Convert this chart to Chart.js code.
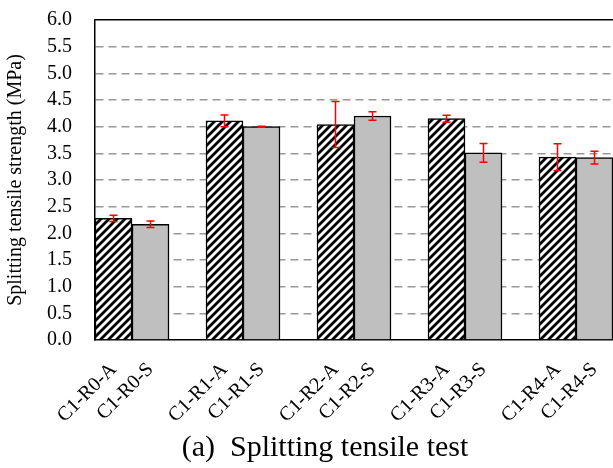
<!DOCTYPE html>
<html>
<head>
<meta charset="utf-8">
<script src="https://cdn.jsdelivr.net/npm/chart.js@4.4.1/dist/chart.umd.min.js"></script>
<style>
    html, body { margin: 0; padding: 0; background: #fff; overflow: hidden; }
    #wrap { width: 650px; height: 468px; }
</style>
</head>
<body>
<div id="wrap"><canvas id="tensile_graph" width="650" height="468"></canvas></div>
<script>
// specimens per group
const groups    = ["C1-R0", "C1-R1", "C1-R2", "C1-R3", "C1-R4"];
const a_values  = [2.28, 4.11, 4.04, 4.15, 3.43];
const a_errors  = [0.06, 0.11, 0.43, 0.065, 0.25];
const s_values  = [2.17, 4.00, 4.20, 3.51, 3.42];
const s_errors  = [0.06, 0.01, 0.08, 0.175, 0.12];
const y_ticks   = [0, 0.5, 1, 1.5, 2, 2.5, 3, 3.5, 4, 4.5, 5, 5.5, 6];

function make_hatch(){
    const c = document.createElement("canvas");
    c.width = 8; c.height = 8;
    const g = c.getContext("2d");
    g.fillStyle = "#fff";
    g.fillRect(0, 0, 8, 8);
    g.strokeStyle = "#000";
    g.lineWidth = 2.8;
    g.beginPath();
    g.moveTo(-2, 10); g.lineTo(10, -2);
    g.moveTo(-2, 2);  g.lineTo(2, -2);
    g.moveTo(6, 10);  g.lineTo(10, 6);
    g.stroke();
    return g.createPattern(c, "repeat");
}

const hatch = make_hatch();
const gray  = "#bfbfbf";

// A, S, blank gap for each group
let labels = [];
let values = [];
let errors = [];
let fills  = [];
for (let i = 0; i < groups.length; i++){
    labels.push(groups[i] + "-A", groups[i] + "-S", "");
    values.push(a_values[i], s_values[i], null);
    errors.push(a_errors[i], s_errors[i], null);
    fills.push(hatch, gray, gray);
}

const error_bars = {
    id: "error_bars",
    afterDatasetsDraw(chart){
        const ctx  = chart.ctx;
        const y    = chart.scales.y;
        const meta = chart.getDatasetMeta(0);
        ctx.save();
        ctx.strokeStyle = "#ff0000";
        ctx.lineWidth = 1.5;
        meta.data.forEach((bar, i) => {
            if (values[i] === null) return;
            const top = y.getPixelForValue(values[i] + errors[i]);
            const bot = y.getPixelForValue(values[i] - errors[i]);
            const x = bar.x;
            ctx.beginPath();
            ctx.moveTo(x, top); ctx.lineTo(x, bot);
            ctx.moveTo(x - 4, top); ctx.lineTo(x + 4, top);
            ctx.moveTo(x - 4, bot); ctx.lineTo(x + 4, bot);
            ctx.stroke();
        });
        ctx.restore();
    }
};

const serif = "'Liberation Serif', 'Times New Roman', serif";

const ctx = document.getElementById("tensile_graph").getContext("2d");
const myChart = new Chart(ctx, {
    type: "bar",
    data: {
        labels: labels,
        datasets: [{
            data: values,
            backgroundColor: fills,
            borderColor: "#000",
            borderWidth: 1.5,
            categoryPercentage: 1.0,
            barPercentage: 1.0
        }]
    },
    options: {
        responsive: false,
        animation: false,
        layout: { padding: { top: 20, right: 0, left: 0, bottom: 0 } },
        scales: {
            x: {
                grid: { display: false, drawTicks: false },
                border: { color: "#000", width: 1.5 },
                ticks: {
                    autoSkip: false,
                    minRotation: 45,
                    maxRotation: 45,
                    padding: 18,
                    color: "#000",
                    font: { family: serif, size: 20 }
                },
                afterFit(scale){
                    scale.height = 86;
                    scale.paddingLeft = 0;
                    scale.paddingRight = 0;
                }
            },
            x2: {
                position: "top",
                grid: { display: false, drawTicks: false },
                border: { color: "#000", width: 1.5 },
                ticks: { display: false },
                afterFit(scale){ scale.height = 0; }
            },
            y: {
                min: 0,
                max: 6,
                afterBuildTicks(scale){ scale.ticks = y_ticks.map(v => ({ value: v })); },
                grid: {
                    drawTicks: false,
                    color: ctx => (ctx.tick && (ctx.tick.value === 0 || ctx.tick.value === 6)) ? "rgba(0,0,0,0)" : "#999",
                    lineWidth: 1.5
                },
                border: { color: "#000", width: 1.5, dash: [8, 5] },
                ticks: {
                    autoSkip: false,
                    padding: 23,
                    color: "#000",
                    font: { family: serif, size: 20 },
                    callback: v => Number(v).toFixed(1)
                },
                title: {
                    display: true,
                    text: "Splitting tensile strength (MPa)",
                    color: "#000",
                    font: { family: serif, size: 20 },
                    padding: { top: 4, bottom: 4 }
                },
                afterFit(scale){
                    scale.width = 95;
                    scale.paddingTop = 0;
                    scale.paddingBottom = 0;
                }
            }
        },
        plugins: {
            legend: { display: false },
            tooltip: { enabled: false },
            title: {
                display: true,
                position: "bottom",
                text: "(a)  Splitting tensile test",
                color: "#000",
                font: { family: serif, size: 30, weight: "normal" },
                padding: { top: 4, bottom: 2 }
            }
        }
    },
    plugins: [error_bars]
});
</script>
</body>
</html>
